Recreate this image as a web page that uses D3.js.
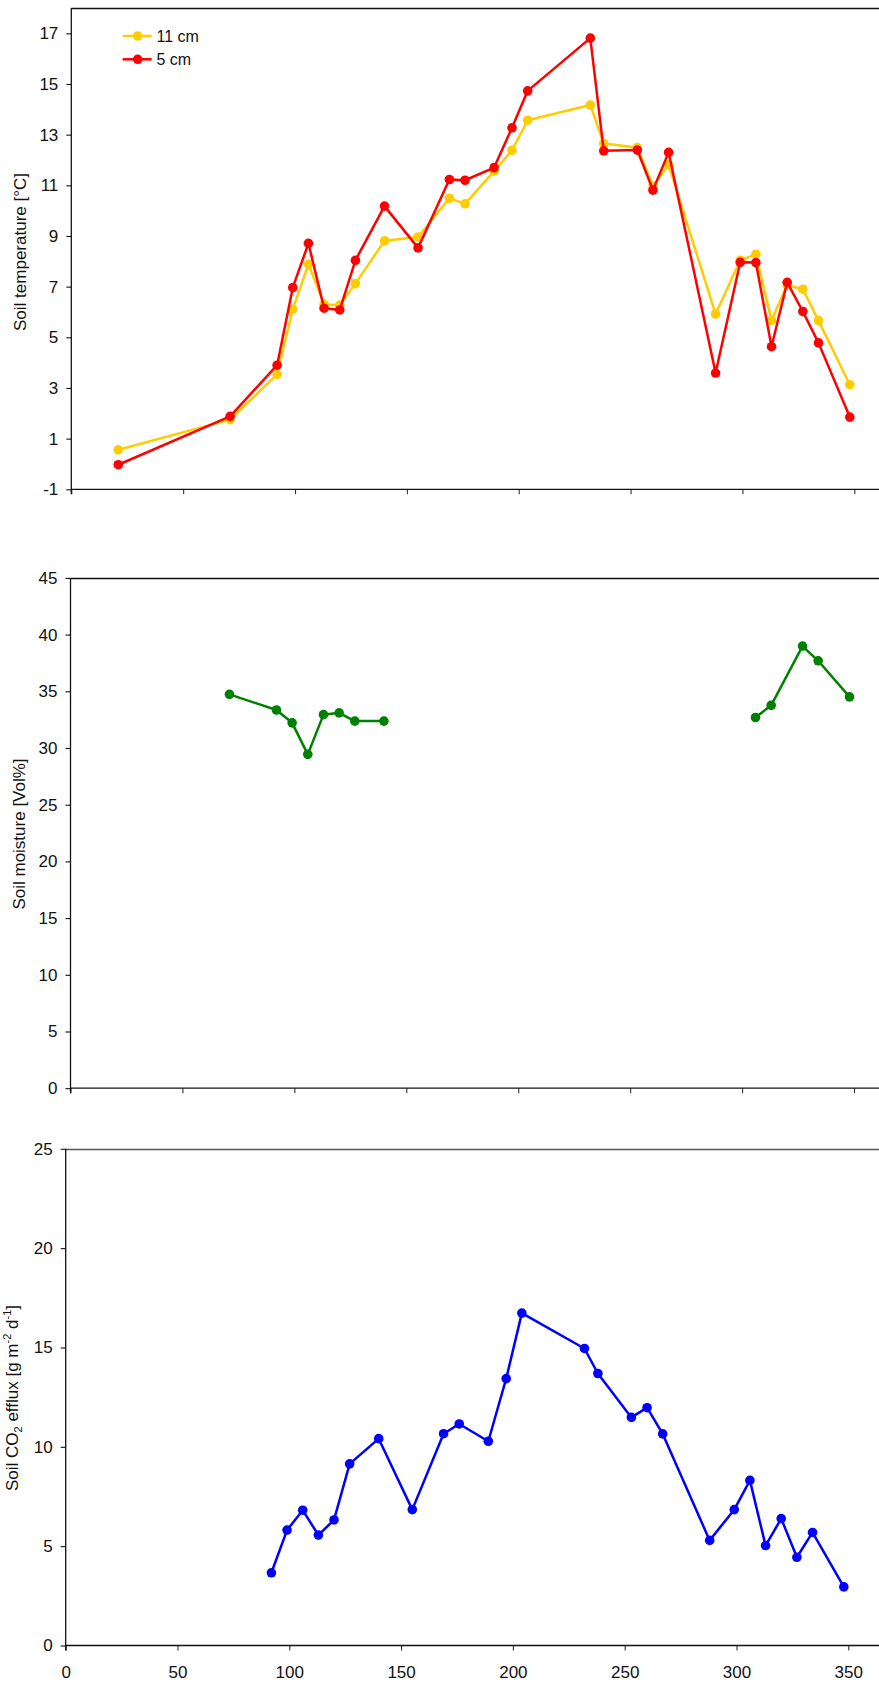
<!DOCTYPE html>
<html>
<head>
<meta charset="utf-8">
<script src="https://cdn.jsdelivr.net/npm/d3@7"></script>
<style>
  html, body { margin: 0; padding: 0; background: #fff; }
  svg { display: block; }
  text { font-family: "Liberation Sans", Arial, sans-serif; fill: #111; }
</style>
</head>
<body>
<svg id="chart" width="879" height="1684"></svg>
<script>
// Day of year for each sampling date
const tempDays = [21, 71, 92, 99, 106, 113, 120, 127, 140, 155, 169, 176, 189, 197, 204,
                  232, 238, 253, 260, 267, 288, 299, 306, 313, 320, 327, 334, 348];
// Soil temperature (°C) at 11 cm and 5 cm depth
const temp11cm = [0.56, 1.75, 3.54, 6.10, 7.89, 6.30, 6.27, 7.12, 8.81, 8.96, 10.49, 10.27, 11.56, 12.38, 13.57,
                  14.17, 12.65, 12.49, 10.97, 11.81, 5.92, 8.04, 8.28, 5.67, 7.06, 6.90, 5.66, 3.13];
const temp5cm  = [-0.03, 1.88, 3.90, 6.96, 8.71, 6.15, 6.08, 8.04, 10.18, 8.53, 11.23, 11.20, 11.70, 13.27, 14.73,
                  16.81, 12.36, 12.39, 10.81, 12.30, 3.59, 7.96, 7.95, 4.63, 7.17, 6.02, 4.78, 1.85];

// Soil moisture (Vol%), two measuring periods
const moistureDaysSpring = [71, 92, 99, 106, 113, 120, 127, 140];
const moistureSpring     = [34.73, 33.35, 32.22, 29.44, 32.94, 33.10, 32.37, 32.37];
const moistureDaysAutumn = [306, 313, 327, 334, 348];
const moistureAutumn     = [32.69, 33.76, 38.99, 37.69, 34.51];

// Soil CO2 efflux (g m-2 d-1)
const co2Days = [92, 99, 106, 113, 120, 127, 140, 155, 169, 176, 189, 197, 204,
                 232, 238, 253, 260, 267, 288, 299, 306, 313, 320, 327, 334, 348];
const co2Efflux = [3.66, 5.81, 6.81, 5.56, 6.32, 9.14, 10.41, 6.84, 10.66, 11.15, 10.28, 13.43, 16.73,
                   14.95, 13.69, 11.48, 11.97, 10.65, 5.29, 6.84, 8.31, 5.03, 6.39, 4.44, 5.69, 2.95];

// Tick values
const xTicks = [0, 50, 100, 150, 200, 250, 300, 350];
const tempTicks = [-1, 1, 3, 5, 7, 9, 11, 13, 15, 17];
const moistureTicks = [0, 5, 10, 15, 20, 25, 30, 35, 40, 45];
const co2Ticks = [0, 5, 10, 15, 20, 25];

const legendLabels = ["11 cm", "5 cm"];

const svg = d3.select("#chart");
const W = 879;
const FONT = 17;
const plain = d => String(d);   // keep ASCII hyphen for negative values

function makePanel(cfg) {
  const g = svg.append("g");
  const x = d3.scaleLinear().domain([0, 350]).range([cfg.left, cfg.x350]);
  const y = d3.scaleLinear().domain(cfg.yDomain).range([cfg.bottom, cfg.top]);

  // top frame line
  g.append("line")
    .attr("x1", cfg.left).attr("x2", W)
    .attr("y1", Math.round(cfg.top) + 0.5).attr("y2", Math.round(cfg.top) + 0.5)
    .attr("stroke", cfg.topColor || "#111").attr("stroke-width", 1.3);

  // bottom axis
  const xAxis = d3.axisBottom(x).tickValues(xTicks).tickSize(5).tickSizeOuter(0).tickPadding(15)
    .tickFormat(cfg.xLabels ? plain : "");
  const gx = g.append("g").attr("transform", `translate(0,${cfg.bottom})`).call(xAxis);
  gx.select(".domain").remove();
  gx.append("line").attr("x1", cfg.left).attr("x2", W).attr("y1", 0).attr("y2", 0)
    .attr("stroke", "#111").attr("stroke-width", 1.3);
  gx.selectAll(".tick line").attr("stroke", "#333").attr("stroke-width", 1.1);
  gx.selectAll("text").attr("font-size", FONT).style("fill", "#111");

  // left axis
  const yAxis = d3.axisLeft(y).tickValues(cfg.yTicks).tickSize(5).tickSizeOuter(0).tickPadding(8)
    .tickFormat(plain);
  const gy = g.append("g").attr("transform", `translate(${cfg.left},0)`).call(yAxis);
  gy.select(".domain").remove();
  gy.append("line").attr("x1", 0).attr("x2", 0).attr("y1", cfg.top).attr("y2", cfg.bottom + 5)
    .attr("stroke", "#111").attr("stroke-width", 1.3);
  gy.selectAll(".tick line").attr("stroke", "#111").attr("stroke-width", 1.1);
  gy.selectAll("text").attr("font-size", FONT).style("fill", "#111");

  // axis title
  const t = g.append("text")
    .attr("transform", `translate(${cfg.titleX},${cfg.titleY}) rotate(-90)`)
    .attr("text-anchor", "middle")
    .attr("font-size", FONT);
  cfg.title(t);

  return { g, x, y };
}

function drawSeries(p, days, values, color) {
  const pts = days.map((d, i) => [d, values[i]]);
  const line = d3.line().x(d => p.x(d[0])).y(d => p.y(d[1]));
  p.g.append("path").datum(pts)
    .attr("d", line).attr("fill", "none")
    .attr("stroke", color).attr("stroke-width", 2.5).attr("stroke-linejoin", "round");
  p.g.selectAll(null).data(pts).enter().append("circle")
    .attr("cx", d => p.x(d[0])).attr("cy", d => p.y(d[1]))
    .attr("r", 4.8).attr("fill", color);
}

// ---- Panel 1: soil temperature ----
const p1 = makePanel({
  left: 71.3, x350: 854.3, top: 8, bottom: 489.3, yDomain: [-1, 18], yTicks: tempTicks,
  xLabels: false, titleX: 26, titleY: 252,
  title: t => t.text("Soil temperature [°C]")
});
const yellow = "#FFCC00", red = "#FF0000";
drawSeries(p1, tempDays, temp11cm, yellow);
drawSeries(p1, tempDays, temp5cm, red);

// legend
const legend = p1.g.append("g");
[yellow, red].forEach((c, i) => {
  const ly = 36 + i * 23.3;
  legend.append("line").attr("x1", 122.7).attr("x2", 151.7).attr("y1", ly).attr("y2", ly)
    .attr("stroke", c).attr("stroke-width", 2.5);
  legend.append("circle").attr("cx", 137.7).attr("cy", ly).attr("r", 4.8).attr("fill", c);
  legend.append("text").attr("x", 156.5).attr("y", ly + 6).attr("font-size", 16).text(legendLabels[i]);
});

// ---- Panel 2: soil moisture ----
const p2 = makePanel({
  left: 70.5, x350: 854, top: 577.9, bottom: 1088.2, yDomain: [0, 45], yTicks: moistureTicks,
  xLabels: false, titleX: 25, titleY: 834,
  title: t => t.text("Soil moisture [Vol%]")
});
const green = "#008000";
drawSeries(p2, moistureDaysSpring, moistureSpring, green);
drawSeries(p2, moistureDaysAutumn, moistureAutumn, green);

// ---- Panel 3: soil CO2 efflux ----
const p3 = makePanel({
  left: 65.7, x350: 848.3, top: 1148.8, bottom: 1645.5, yDomain: [0, 25], yTicks: co2Ticks,
  xLabels: true, titleX: 17.5, titleY: 1398, topColor: "#555",
  title: t => {
    t.append("tspan").text("Soil CO");
    t.append("tspan").attr("font-size", 11).attr("dy", 4).text("2");
    t.append("tspan").attr("dy", -4).text(" efflux [g m");
    t.append("tspan").attr("font-size", 11).attr("dy", -7).text("-2");
    t.append("tspan").attr("dy", 7).text(" d");
    t.append("tspan").attr("font-size", 11).attr("dy", -7).text("-1");
    t.append("tspan").attr("dy", 7).text("]");
  }
});
drawSeries(p3, co2Days, co2Efflux, "#0000FF");
</script>
</body>
</html>
